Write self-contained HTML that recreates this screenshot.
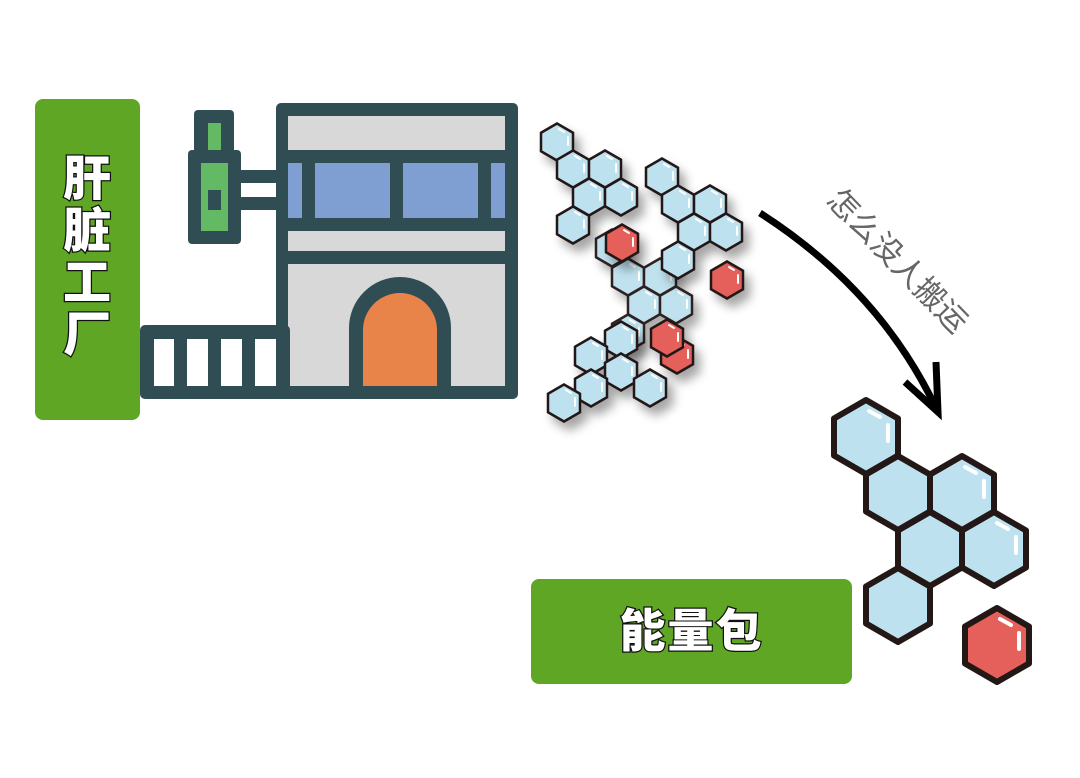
<!DOCTYPE html>
<html><head><meta charset="utf-8"><style>
html,body{margin:0;padding:0;background:#fff;}
body{width:1080px;height:778px;overflow:hidden;position:relative;}
.box{position:absolute;background:#5ea624;border-radius:8px;}
.t{font-family:"Liberation Sans","Noto Sans CJK SC",sans-serif;font-weight:900;color:#fff;-webkit-text-stroke:2.5px #111;paint-order:stroke fill;}
</style></head><body>
<div class="box" style="left:35px;top:99px;width:105px;height:321px;"></div>
<div class="t" style="position:absolute;left:58px;top:154px;width:58px;font-size:48px;line-height:52px;text-align:center;">肝<br>脏<br>工<br>厂</div>
<div class="box" style="left:531px;top:579px;width:321px;height:105px;"></div>
<div class="t" style="position:absolute;left:531px;top:602px;width:321px;font-size:46px;line-height:58px;text-align:center;letter-spacing:2px;">能量包</div>
<svg width="1080" height="778" style="position:absolute;left:0;top:0" xmlns="http://www.w3.org/2000/svg">
<defs>
<filter id="sh" x="-20%" y="-20%" width="150%" height="150%"><feDropShadow dx="6" dy="8" stdDeviation="5" flood-color="#000" flood-opacity="0.35"/></filter>
<g id="sb"><polygon points="0,-18.5 16,-9.25 16,9.25 0,18.5 -16,9.25 -16,-9.25" fill="#bde1ef" stroke="#231815" stroke-width="2.5"/><path d="M2,-13 L7,-10 M11,-5 L11,3" stroke="#fff" stroke-width="2" stroke-linecap="round"/></g>
<g id="sr"><polygon points="0,-18.5 16,-9.25 16,9.25 0,18.5 -16,9.25 -16,-9.25" fill="#e5605a" stroke="#231815" stroke-width="2.5"/><path d="M2,-13 L7,-10 M11,-5 L11,3" stroke="#fff" stroke-width="2" stroke-linecap="round"/></g>
<g id="bb"><polygon points="0,-37 32,-18.5 32,18.5 0,37 -32,18.5 -32,-18.5" fill="#bde1ef" stroke="#231815" stroke-width="6" stroke-linejoin="round"/><path d="M3,-26 L14,-20 M22,-12 L22,4" stroke="#fff" stroke-width="4" stroke-linecap="round"/></g>
<g id="bn"><polygon points="0,-37 32,-18.5 32,18.5 0,37 -32,18.5 -32,-18.5" fill="#bde1ef" stroke="#231815" stroke-width="6" stroke-linejoin="round"/></g>
<g id="br"><polygon points="0,-37 32,-18.5 32,18.5 0,37 -32,18.5 -32,-18.5" fill="#e5605a" stroke="#231815" stroke-width="6" stroke-linejoin="round"/><path d="M3,-26 L14,-20 M22,-12 L22,4" stroke="#fff" stroke-width="4" stroke-linecap="round"/></g>
</defs>
<g>
<rect x="276" y="103" width="242" height="296" rx="5" fill="#2f4d53"/>
<rect x="288" y="116" width="217" height="34" fill="#d8d8d8"/>
<rect x="288" y="163" width="14" height="55" fill="#7f9fd2"/>
<rect x="315" y="163" width="75" height="55" fill="#7f9fd2"/>
<rect x="403" y="163" width="75" height="55" fill="#7f9fd2"/>
<rect x="491" y="163" width="14" height="55" fill="#7f9fd2"/>
<rect x="288" y="231" width="217" height="20" fill="#d8d8d8"/>
<rect x="288" y="264" width="217" height="122" fill="#d8d8d8"/>
<path d="M349,386 L349,328 A51,51 0 0 1 451,328 L451,386 Z" fill="#2f4d53"/>
<path d="M363,386 L363,330 A37,37 0 0 1 437,330 L437,386 Z" fill="#e8834a"/>
<rect x="140" y="325" width="150" height="74" rx="5" fill="#2f4d53"/>
<rect x="154" y="339" width="20" height="47" fill="#fff"/>
<rect x="187" y="339" width="21" height="47" fill="#fff"/>
<rect x="221" y="339" width="21" height="47" fill="#fff"/>
<rect x="255" y="339" width="21" height="47" fill="#fff"/>
<rect x="194" y="110" width="40" height="52" rx="4" fill="#2f4d53"/>
<rect x="208" y="123" width="13" height="27" fill="#64b964"/>
<rect x="188" y="150" width="53" height="94" rx="4" fill="#2f4d53"/>
<rect x="201" y="163" width="27" height="68" fill="#64b964"/>
<rect x="208" y="190" width="13" height="20" fill="#2f4d53"/>
<rect x="238" y="170" width="42" height="40" fill="#2f4d53"/>
<rect x="241" y="183" width="35" height="14" fill="#fff"/>
</g>
<g filter="url(#sh)">
<use href="#sb" x="557" y="142"/><use href="#sb" x="573" y="169"/><use href="#sb" x="605" y="169"/><use href="#sb" x="589" y="197"/><use href="#sb" x="621" y="197"/><use href="#sb" x="573" y="225"/>
</g>
<g filter="url(#sh)" opacity="0.95">
<use href="#sb" x="612" y="248"/><use href="#sb" x="628" y="277"/><use href="#sb" x="660" y="277"/><use href="#sb" x="644" y="305"/><use href="#sb" x="676" y="305"/><use href="#sb" x="628" y="333"/>
</g>
<g filter="url(#sh)">
<use href="#sb" x="662" y="177"/><use href="#sb" x="678" y="204"/><use href="#sb" x="710" y="204"/><use href="#sb" x="694" y="232"/><use href="#sb" x="726" y="232"/><use href="#sb" x="678" y="260"/>
</g>
<g filter="url(#sh)">
<use href="#sb" x="621" y="340"/><use href="#sb" x="591" y="356"/><use href="#sb" x="621" y="372"/><use href="#sb" x="591" y="388"/><use href="#sb" x="650" y="388"/><use href="#sb" x="564" y="403"/>
</g>
<g filter="url(#sh)">
<use href="#sr" x="622" y="243"/><use href="#sr" x="727" y="280"/><use href="#sr" x="677" y="355"/><use href="#sr" x="667" y="338"/>
</g>
<use href="#bb" x="866" y="437"/><use href="#bn" x="898" y="493"/><use href="#bb" x="962" y="493"/><use href="#bn" x="930" y="549"/><use href="#bb" x="994" y="549"/><use href="#bn" x="898" y="605"/>
<use href="#br" x="997" y="645"/>
<path d="M760,213 Q880,290 936,408" fill="none" stroke="#000" stroke-width="7"/>
<path d="M905,382 L938,412 L936,362" fill="none" stroke="#000" stroke-width="7" stroke-linejoin="miter"/>
<text x="890" y="268" transform="rotate(46 890 268)" text-anchor="middle" font-family="Liberation Sans,Noto Sans CJK SC,sans-serif" font-size="31" fill="#666">怎么没人搬运</text>
</svg>
</body></html>
